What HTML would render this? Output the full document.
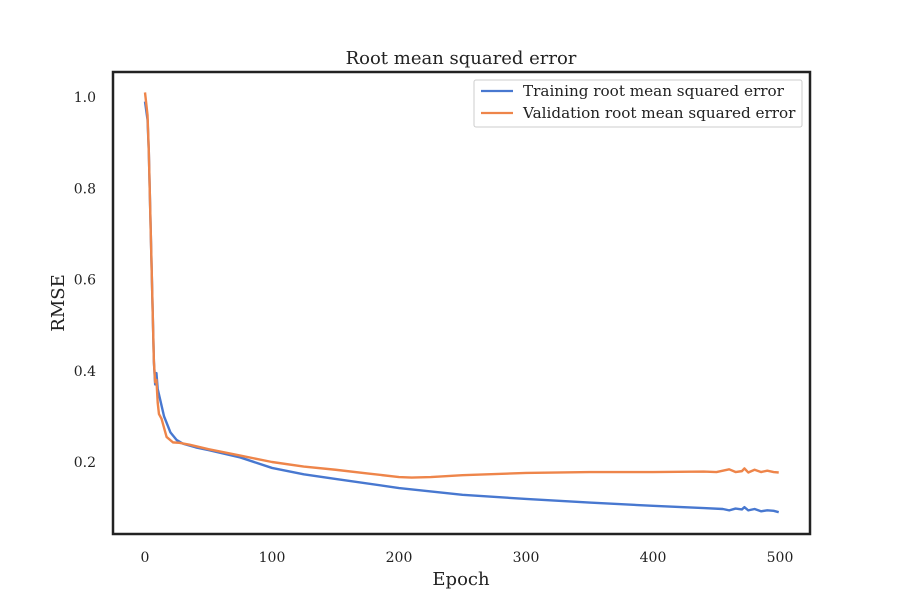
<!DOCTYPE html>
<html><head><meta charset="utf-8"><style>
body{margin:0;background:#fff}
svg text{font-family:"DejaVu Serif","Liberation Serif",serif;fill:#222}
</style></head><body>
<svg id="c" width="900" height="600">
<text x="461" y="64" text-anchor="middle" font-size="18">Root mean squared error</text>
<text x="461" y="585" text-anchor="middle" font-size="18">Epoch</text>
<text transform="translate(64,303) rotate(-90)" text-anchor="middle" font-size="18">RMSE</text>
<g id="ticks"></g>
<g id="lines"></g>
<rect x="113" y="72" width="697" height="462" fill="none" stroke="#222" stroke-width="2.5"/>
<g>
<rect x="474" y="80" width="328" height="47" fill="#fff" stroke="#ccc" rx="2"/>
<line x1="481" y1="91" x2="513" y2="91" stroke="#4878d0" stroke-width="2.2"/>
<text x="523" y="96" font-size="15.2">Training root mean squared error</text>
<line x1="481" y1="113" x2="513" y2="113" stroke="#ee854a" stroke-width="2.2"/>
<text x="523" y="118" font-size="15.2">Validation root mean squared error</text>
</g>
</svg>
<script>
const xTicks=[0,100,200,300,400,500];
const yTicks=[0.2,0.4,0.6,0.8,1.0];
const trainEpochs=[0,2,3,5,7,8,9,10,12,15,20,25,30,40,50,75,100,125,150,200,250,300,350,400,440,455,460,465,470,472,475,480,485,490,495,499];
const trainValues=[0.99,0.95,0.88,0.65,0.42,0.37,0.395,0.36,0.336,0.3,0.265,0.248,0.24,0.232,0.226,0.21,0.187,0.173,0.163,0.143,0.128,0.119,0.111,0.104,0.099,0.097,0.094,0.098,0.096,0.101,0.094,0.097,0.092,0.094,0.093,0.09];
const valEpochs=[0,2,3,5,7,8,9,10,11,13,17,22,27,35,50,75,100,125,150,175,200,210,225,250,300,350,400,440,450,460,465,470,472,475,480,485,490,495,499];
const valValues=[1.01,0.96,0.88,0.65,0.42,0.375,0.38,0.33,0.305,0.295,0.255,0.243,0.242,0.238,0.228,0.214,0.2,0.19,0.183,0.175,0.167,0.166,0.167,0.171,0.176,0.178,0.178,0.179,0.178,0.184,0.178,0.18,0.186,0.177,0.183,0.178,0.181,0.178,0.177];
const X=v=>145+v*1.27, Y=v=>97+(1-v)*456.25;
const NS="http://www.w3.org/2000/svg";
const tg=document.getElementById('ticks'), lg=document.getElementById('lines');
xTicks.forEach(t=>{const e=document.createElementNS(NS,'text');


e.setAttribute('x',X(t));e.setAttribute('y',562);e.setAttribute('text-anchor','middle');e.setAttribute('font-size','14');e.textContent=t;tg.appendChild(e);});
yTicks.forEach(t=>{const e=document.createElementNS(NS,'text');


e.setAttribute('x',96);e.setAttribute('y',Y(t)+5);e.setAttribute('text-anchor','end');e.setAttribute('font-size','14');e.textContent=t.toFixed(1);tg.appendChild(e);});
function line(xs,ys,col,name){const p=document.createElementNS(NS,'polyline');


p.setAttribute('points',xs.map((x,i)=>X(x)+','+Y(ys[i])).join(' '));
p.setAttribute('fill','none');p.setAttribute('stroke',col);p.setAttribute('stroke-width','2.4');p.setAttribute('stroke-linejoin','round');lg.appendChild(p);}
line(trainEpochs,trainValues,'#4878d0','training-line');
line(valEpochs,valValues,'#ee854a','validation-line');
</script>
</body></html>
